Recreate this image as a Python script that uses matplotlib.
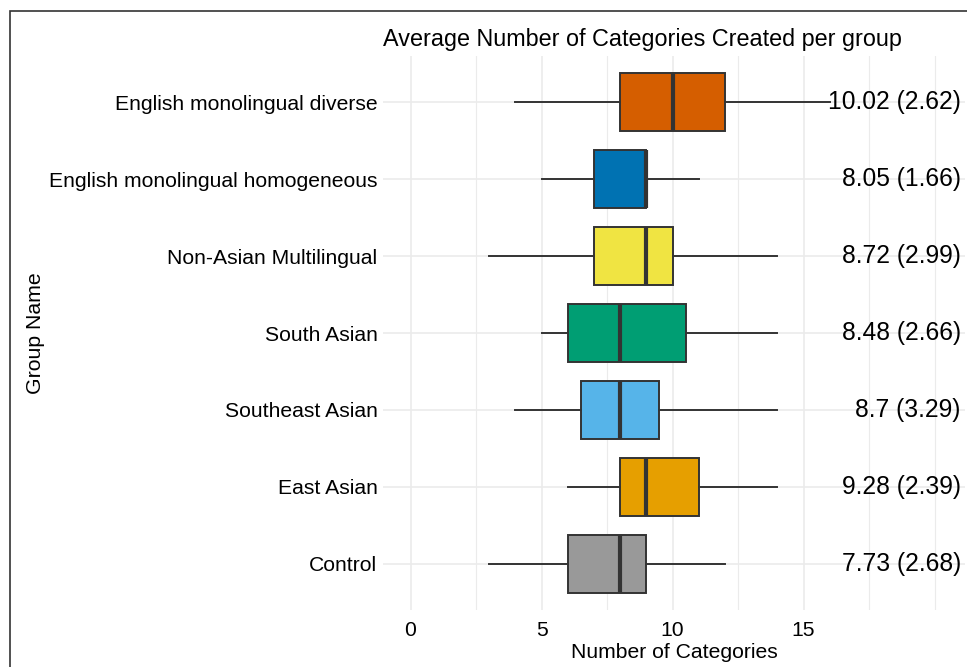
import matplotlib
matplotlib.use("Agg")
import matplotlib.pyplot as plt
from matplotlib.patches import Rectangle

plt.rcParams['font.family'] = ['Liberation Sans', 'DejaVu Sans']

# groups, bottom to top
groups = ["Control", "East Asian", "Southeast Asian", "South Asian",
          "Non-Asian Multilingual", "English monolingual homogeneous",
          "English monolingual diverse"]
colors = ["#999999", "#E69F00", "#56B4E9", "#009E73",
          "#F0E442", "#0072B2", "#D55E00"]

# five-number summaries
whis_lo = [3, 6, 4, 5, 3, 5, 4]
q1 = [6, 8, 6.5, 6, 7, 7, 8]
median = [8, 9, 8, 8, 9, 9, 10]
q3 = [9, 11, 9.5, 10.5, 10, 9, 12]
whis_hi = [12, 14, 14, 14, 14, 11, 16]

# mean (sd) per group
means = [7.73, 9.28, 8.7, 8.48, 8.72, 8.05, 10.02]
sds = [2.68, 2.39, 3.29, 2.66, 2.99, 1.66, 2.62]

W, H = 967, 667
fig = plt.figure(figsize=(W / 100, H / 100), dpi=100)
ax = fig.add_axes([383 / W, 1 - 610 / H, (965 - 383) / W, (610 - 56) / H])

stats = []
for i in range(len(groups)):
    stats.append(dict(med=median[i], q1=q1[i], q3=q3[i],
                      whislo=whis_lo[i], whishi=whis_hi[i], fliers=[]))

pos = list(range(1, len(groups) + 1))
bp = ax.bxp(stats, positions=pos, vert=False, widths=0.75, patch_artist=True,
            showcaps=False, showfliers=False,
            boxprops=dict(edgecolor="#333333", linewidth=1.4),
            whiskerprops=dict(color="#333333", linewidth=1.4),
            medianprops=dict(color="#333333", linewidth=3, solid_capstyle="butt"),
            zorder=3)
for patch, c in zip(bp["boxes"], colors):
    patch.set_facecolor(c)

for p, m, s in zip(pos, means, sds):
    ax.text(21, p, f"{m:g} ({s:g})", ha="right", va="center",
            fontsize=17.7, color="black", zorder=5)

ax.set_xlim(-1.05, 21.16)
ax.set_ylim(0.4, 7.6)
ax.set_xticks([0, 5, 10, 15])
ax.set_xticks([2.5, 7.5, 12.5, 17.5, 20], minor=True)
ax.set_yticks(pos)
ax.set_yticklabels(groups)
ax.tick_params(axis="both", which="both", length=0, labelsize=15.2, colors="black")
ax.tick_params(axis="x", pad=8)
ax.tick_params(axis="y", pad=4)
ax.grid(True, which="major", color="#EBEBEB", linewidth=1.2, zorder=0)
ax.grid(True, which="minor", axis="x", color="#EBEBEB", linewidth=0.8, zorder=0)
ax.set_axisbelow(True)
for s in ax.spines.values():
    s.set_visible(False)

ax.set_xlabel("Number of Categories", fontsize=15.2, labelpad=2)
ax.set_ylabel("Group Name", fontsize=15.3)
ax.yaxis.set_label_coords(-(383 - 45) / (965 - 383), 0.5)
ax.set_title("Average Number of Categories Created per group", fontsize=16.8,
             loc="left", pad=7)

# outer frame
fig.patches.append(Rectangle((10 / W, -0.1), 1.2, 1.1 - 11 / H, transform=fig.transFigure,
                             fill=False, edgecolor="#333333", linewidth=1.2))

fig.savefig("out.png", dpi=100)
